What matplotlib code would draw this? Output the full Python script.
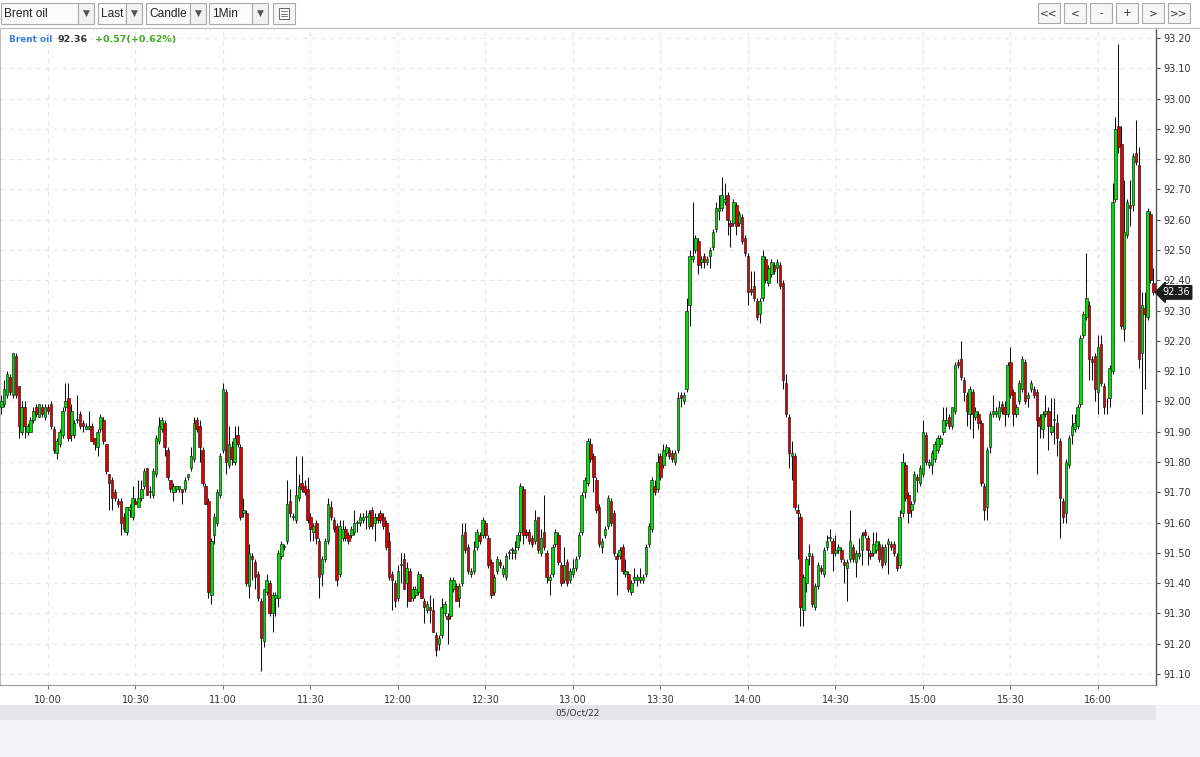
import matplotlib
matplotlib.use("Agg")
import matplotlib.pyplot as plt
from matplotlib.patches import Rectangle
from matplotlib.lines import Line2D
import numpy as np

# ---------------- data (1-minute candles, Brent oil, 05/Oct/22) ----------------
start_minute = 9 * 60 + 44          # first candle 09:44

opens = [
    91.98, 91.99, 92.02, 92.08, 92.02, 92.15, 92.05, 91.90, 91.98, 91.90,
    91.90, 91.94, 91.98, 91.95, 91.98, 91.95, 91.98, 91.99, 91.91, 91.83,
    91.86, 91.89, 91.98, 92.01, 91.89, 91.89, 91.94, 91.96, 91.93, 91.91,
    91.91, 91.92, 91.88, 91.85, 91.91, 91.94, 91.86, 91.76, 91.74, 91.70,
    91.67, 91.67, 91.62, 91.57, 91.64, 91.62, 91.67, 91.65, 91.68, 91.72,
    91.78, 91.70, 91.69, 91.76, 91.87, 91.91, 91.93, 91.84, 91.74, 91.70,
    91.71, 91.71, 91.71, 91.71, 91.75, 91.78, 91.81, 91.94, 91.92, 91.84,
    91.72, 91.67, 91.36, 91.56, 91.60, 91.69, 91.84, 92.03, 91.79, 91.85,
    91.80, 91.89, 91.85, 91.63, 91.63, 91.39, 91.49, 91.47, 91.43, 91.34,
    91.21, 91.37, 91.40, 91.30, 91.35, 91.35, 91.49, 91.52, 91.54, 91.67,
    91.62, 91.61, 91.68, 91.73, 91.72, 91.71, 91.62, 91.57, 91.60, 91.54,
    91.43, 91.48, 91.54, 91.65, 91.61, 91.59, 91.43, 91.55, 91.58, 91.56,
    91.56, 91.57, 91.60, 91.60, 91.61, 91.62, 91.59, 91.64, 91.60, 91.62,
    91.63, 91.62, 91.60, 91.54, 91.43, 91.40, 91.35, 91.46, 91.48, 91.40,
    91.44, 91.35, 91.36, 91.37, 91.42, 91.34, 91.31, 91.32, 91.31, 91.23,
    91.20, 91.23, 91.30, 91.29, 91.29, 91.38, 91.39, 91.35, 91.40, 91.57,
    91.52, 91.43, 91.44, 91.52, 91.56, 91.56, 91.60, 91.55, 91.47, 91.37,
    91.44, 91.47, 91.43, 91.42, 91.50, 91.51, 91.50, 91.52, 91.57, 91.71,
    91.57, 91.57, 91.55, 91.54, 91.62, 91.50, 91.57, 91.50, 91.41, 91.43,
    91.53, 91.56, 91.46, 91.41, 91.47, 91.41, 91.43, 91.45, 91.49, 91.57,
    91.70, 91.73, 91.86, 91.82, 91.74, 91.65, 91.52, 91.56, 91.59, 91.67,
    91.63, 91.49, 91.49, 91.52, 91.43, 91.43, 91.37, 91.41, 91.41, 91.41,
    91.41, 91.43, 91.53, 91.58, 91.72, 91.71, 91.82, 91.79, 91.83, 91.84,
    91.83, 91.80, 91.84, 92.02, 92.00, 92.04, 92.32, 92.47, 92.50, 92.53,
    92.46, 92.48, 92.46, 92.48, 92.51, 92.57, 92.63, 92.64, 92.66, 92.68,
    92.59, 92.59, 92.65, 92.59, 92.61, 92.54, 92.48, 92.37, 92.38, 92.33,
    92.29, 92.34, 92.47, 92.39, 92.42, 92.45, 92.44, 92.45, 92.39, 92.06,
    91.95, 91.82, 91.82, 91.64, 91.62, 91.31, 91.40, 91.49, 91.49, 91.32,
    91.39, 91.45, 91.43, 91.52, 91.55, 91.54, 91.50, 91.51, 91.51, 91.47,
    91.45, 91.48, 91.52, 91.47, 91.49, 91.51, 91.57, 91.55, 91.50, 91.50,
    91.51, 91.53, 91.52, 91.47, 91.53, 91.53, 91.53, 91.49, 91.46, 91.63,
    91.79, 91.69, 91.64, 91.67, 91.75, 91.73, 91.76, 91.89, 91.79, 91.79,
    91.81, 91.84, 91.86, 91.90, 91.93, 91.95, 91.92, 91.97, 92.13, 92.14,
    92.07, 92.02, 91.96, 92.03, 91.95, 91.96, 91.93, 91.72, 91.65, 91.85,
    91.96, 91.96, 91.95, 91.99, 91.98, 91.96, 92.13, 92.03, 91.96, 92.00,
    92.04, 92.13, 92.01, 92.04, 92.04, 92.03, 91.95, 91.91, 91.96, 91.97,
    91.90, 91.94, 91.93, 91.87, 91.67, 91.63, 91.79, 91.89, 91.91, 91.92,
    91.99, 92.22, 92.28, 92.32, 92.14, 92.15, 92.03, 92.19, 92.05, 92.00,
    92.01, 92.10, 92.67, 92.91, 92.85, 92.24, 92.55, 92.65, 92.65, 92.82,
    92.78, 92.16, 92.31, 92.28, 92.62, 92.39,
]

highs = [
    92.02, 92.07, 92.10, 92.09, 92.16, 92.16, 92.05, 92.00, 92.00, 91.93,
    91.95, 91.98, 91.99, 91.99, 91.99, 91.99, 91.99, 92.00, 91.92, 91.88,
    91.91, 91.98, 92.06, 92.06, 91.99, 91.94, 92.02, 91.97, 91.94, 91.93,
    91.97, 91.93, 91.88, 91.91, 91.96, 91.95, 91.86, 91.76, 91.75, 91.71,
    91.68, 91.68, 91.63, 91.65, 91.66, 91.72, 91.68, 91.74, 91.74, 91.78,
    91.78, 91.72, 91.78, 91.89, 91.95, 91.95, 91.94, 91.85, 91.74, 91.73,
    91.72, 91.72, 91.71, 91.75, 91.76, 91.85, 91.95, 91.95, 91.94, 91.85,
    91.73, 91.68, 91.55, 91.63, 91.71, 91.83, 92.06, 92.04, 91.92, 91.87,
    91.92, 91.92, 91.86, 91.68, 91.64, 91.53, 91.50, 91.48, 91.44, 91.35,
    91.38, 91.43, 91.41, 91.37, 91.37, 91.51, 91.54, 91.53, 91.74, 91.71,
    91.63, 91.82, 91.76, 91.82, 91.74, 91.75, 91.63, 91.60, 91.61, 91.55,
    91.49, 91.55, 91.68, 91.67, 91.62, 91.60, 91.61, 91.61, 91.59, 91.57,
    91.59, 91.64, 91.61, 91.63, 91.63, 91.64, 91.64, 91.65, 91.63, 91.63,
    91.64, 91.63, 91.61, 91.57, 91.44, 91.41, 91.46, 91.50, 91.50, 91.47,
    91.45, 91.39, 91.39, 91.44, 91.43, 91.35, 91.34, 91.36, 91.35, 91.24,
    91.23, 91.35, 91.34, 91.30, 91.42, 91.42, 91.40, 91.40, 91.60, 91.60,
    91.53, 91.45, 91.54, 91.58, 91.57, 91.62, 91.61, 91.56, 91.48, 91.43,
    91.49, 91.48, 91.46, 91.50, 91.51, 91.52, 91.54, 91.57, 91.73, 91.72,
    91.58, 91.58, 91.56, 91.64, 91.62, 91.58, 91.69, 91.51, 91.43, 91.53,
    91.58, 91.57, 91.47, 91.52, 91.48, 91.45, 91.48, 91.49, 91.57, 91.70,
    91.75, 91.88, 91.88, 91.83, 91.75, 91.66, 91.55, 91.59, 91.69, 91.68,
    91.64, 91.50, 91.52, 91.53, 91.48, 91.44, 91.41, 91.45, 91.43, 91.45,
    91.43, 91.53, 91.60, 91.75, 91.74, 91.83, 91.83, 91.86, 91.86, 91.85,
    91.84, 91.84, 92.03, 92.03, 92.03, 92.34, 92.50, 92.66, 92.55, 92.54,
    92.48, 92.49, 92.48, 92.51, 92.57, 92.66, 92.68, 92.74, 92.72, 92.69,
    92.60, 92.67, 92.66, 92.63, 92.62, 92.55, 92.49, 92.43, 92.43, 92.34,
    92.34, 92.50, 92.48, 92.45, 92.47, 92.46, 92.47, 92.46, 92.40, 92.09,
    91.96, 91.87, 91.83, 91.66, 91.63, 91.43, 91.49, 91.53, 91.50, 91.40,
    91.47, 91.46, 91.52, 91.56, 91.58, 91.55, 91.56, 91.53, 91.52, 91.48,
    91.48, 91.64, 91.53, 91.51, 91.55, 91.57, 91.58, 91.56, 91.51, 91.57,
    91.57, 91.54, 91.53, 91.53, 91.55, 91.54, 91.54, 91.50, 91.64, 91.83,
    91.80, 91.70, 91.67, 91.77, 91.76, 91.79, 91.94, 91.90, 91.81, 91.84,
    91.87, 91.89, 91.89, 91.98, 91.98, 91.96, 91.98, 92.13, 92.14, 92.20,
    92.08, 92.03, 92.05, 92.04, 91.98, 91.97, 91.94, 91.73, 91.85, 91.97,
    92.02, 91.98, 92.00, 92.00, 92.00, 92.13, 92.18, 92.04, 91.99, 92.07,
    92.15, 92.14, 92.03, 92.07, 92.05, 92.04, 91.96, 91.97, 92.02, 91.98,
    92.01, 92.01, 91.96, 91.88, 91.68, 91.81, 91.89, 91.96, 91.96, 91.99,
    92.22, 92.30, 92.49, 92.33, 92.15, 92.16, 92.22, 92.22, 92.06, 92.01,
    92.12, 92.72, 92.94, 93.18, 92.91, 92.73, 92.67, 92.73, 92.82, 92.93,
    92.84, 92.36, 92.36, 92.64, 92.63, 92.44,
]

lows = [
    91.96, 91.98, 92.01, 92.02, 92.01, 92.01, 91.88, 91.89, 91.88, 91.89,
    91.90, 91.93, 91.95, 91.95, 91.95, 91.94, 91.96, 91.91, 91.83, 91.81,
    91.85, 91.88, 91.97, 91.87, 91.87, 91.88, 91.93, 91.91, 91.90, 91.91,
    91.91, 91.87, 91.84, 91.82, 91.90, 91.86, 91.76, 91.64, 91.64, 91.67,
    91.65, 91.56, 91.57, 91.56, 91.62, 91.61, 91.66, 91.65, 91.67, 91.71,
    91.69, 91.68, 91.68, 91.75, 91.86, 91.90, 91.82, 91.74, 91.70, 91.67,
    91.70, 91.70, 91.66, 91.70, 91.74, 91.77, 91.80, 91.90, 91.80, 91.72,
    91.66, 91.35, 91.33, 91.53, 91.59, 91.68, 91.83, 91.76, 91.78, 91.79,
    91.79, 91.85, 91.61, 91.62, 91.39, 91.35, 91.41, 91.38, 91.34, 91.11,
    91.19, 91.36, 91.29, 91.24, 91.29, 91.32, 91.48, 91.51, 91.53, 91.62,
    91.61, 91.60, 91.67, 91.70, 91.69, 91.60, 91.54, 91.54, 91.53, 91.35,
    91.39, 91.47, 91.53, 91.61, 91.57, 91.39, 91.42, 91.54, 91.54, 91.53,
    91.55, 91.56, 91.57, 91.59, 91.60, 91.58, 91.58, 91.58, 91.54, 91.60,
    91.60, 91.58, 91.51, 91.41, 91.31, 91.32, 91.34, 91.40, 91.38, 91.32,
    91.34, 91.34, 91.35, 91.36, 91.35, 91.27, 91.30, 91.27, 91.24, 91.16,
    91.18, 91.22, 91.29, 91.20, 91.28, 91.37, 91.34, 91.32, 91.39, 91.50,
    91.43, 91.42, 91.43, 91.51, 91.53, 91.55, 91.55, 91.45, 91.35, 91.36,
    91.43, 91.45, 91.42, 91.41, 91.48, 91.48, 91.48, 91.51, 91.54, 91.53,
    91.55, 91.53, 91.52, 91.53, 91.50, 91.49, 91.51, 91.40, 91.36, 91.42,
    91.52, 91.46, 91.39, 91.40, 91.39, 91.40, 91.42, 91.44, 91.48, 91.56,
    91.68, 91.72, 91.80, 91.70, 91.63, 91.52, 91.50, 91.55, 91.58, 91.59,
    91.49, 91.36, 91.48, 91.43, 91.42, 91.37, 91.36, 91.40, 91.39, 91.40,
    91.40, 91.42, 91.52, 91.57, 91.69, 91.70, 91.74, 91.78, 91.82, 91.81,
    91.80, 91.79, 91.83, 91.98, 91.99, 92.03, 92.25, 92.46, 92.49, 92.42,
    92.44, 92.44, 92.45, 92.44, 92.50, 92.56, 92.60, 92.63, 92.65, 92.55,
    92.51, 92.58, 92.55, 92.58, 92.52, 92.48, 92.32, 92.35, 92.33, 92.27,
    92.26, 92.33, 92.39, 92.38, 92.41, 92.42, 92.39, 92.37, 92.04, 91.95,
    91.78, 91.74, 91.64, 91.48, 91.26, 91.26, 91.37, 91.46, 91.32, 91.31,
    91.38, 91.43, 91.42, 91.51, 91.54, 91.44, 91.49, 91.50, 91.47, 91.40,
    91.34, 91.47, 91.47, 91.42, 91.48, 91.46, 91.55, 91.46, 91.48, 91.49,
    91.50, 91.47, 91.45, 91.46, 91.43, 91.51, 91.49, 91.44, 91.45, 91.62,
    91.67, 91.60, 91.62, 91.66, 91.70, 91.72, 91.75, 91.79, 91.78, 91.76,
    91.80, 91.83, 91.85, 91.89, 91.92, 91.91, 91.91, 91.96, 92.11, 92.07,
    92.00, 91.92, 91.91, 91.88, 91.94, 91.91, 91.72, 91.61, 91.61, 91.83,
    91.95, 91.95, 91.94, 91.96, 91.92, 91.95, 92.01, 91.92, 91.95, 91.99,
    92.03, 91.99, 91.98, 92.03, 92.01, 91.76, 91.88, 91.88, 91.95, 91.84,
    91.89, 91.86, 91.82, 91.55, 91.60, 91.60, 91.78, 91.86, 91.90, 91.91,
    91.98, 92.21, 92.27, 92.07, 92.07, 92.00, 91.96, 92.05, 91.96, 91.96,
    91.98, 92.09, 92.66, 92.82, 92.24, 92.20, 92.54, 92.58, 92.63, 92.78,
    92.11, 91.96, 92.04, 92.27, 92.39, 92.35,
]

closes = [
    92.00, 92.04, 92.09, 92.03, 92.16, 92.02, 91.92, 91.98, 91.92, 91.92,
    91.94, 91.97, 91.96, 91.99, 91.96, 91.98, 91.97, 91.92, 91.84, 91.87,
    91.90, 91.97, 92.00, 91.88, 91.97, 91.93, 91.94, 91.92, 91.92, 91.92,
    91.92, 91.87, 91.86, 91.90, 91.95, 91.87, 91.77, 91.73, 91.68, 91.68,
    91.66, 91.60, 91.58, 91.65, 91.65, 91.68, 91.66, 91.68, 91.71, 91.77,
    91.69, 91.70, 91.77, 91.88, 91.92, 91.94, 91.85, 91.75, 91.71, 91.72,
    91.72, 91.72, 91.70, 91.74, 91.76, 91.82, 91.93, 91.91, 91.85, 91.73,
    91.66, 91.37, 91.54, 91.62, 91.70, 91.82, 92.04, 91.80, 91.86, 91.81,
    91.88, 91.86, 91.62, 91.64, 91.40, 91.50, 91.48, 91.42, 91.35, 91.22,
    91.38, 91.41, 91.30, 91.36, 91.36, 91.50, 91.53, 91.52, 91.66, 91.63,
    91.62, 91.69, 91.72, 91.71, 91.70, 91.61, 91.58, 91.59, 91.55, 91.42,
    91.48, 91.54, 91.66, 91.62, 91.58, 91.41, 91.59, 91.58, 91.55, 91.54,
    91.58, 91.60, 91.60, 91.62, 91.62, 91.62, 91.63, 91.59, 91.62, 91.61,
    91.61, 91.59, 91.52, 91.42, 91.41, 91.34, 91.44, 91.46, 91.38, 91.45,
    91.34, 91.38, 91.38, 91.43, 91.35, 91.32, 91.33, 91.31, 91.24, 91.18,
    91.22, 91.32, 91.33, 91.28, 91.41, 91.41, 91.34, 91.39, 91.56, 91.51,
    91.44, 91.44, 91.51, 91.57, 91.54, 91.61, 91.56, 91.46, 91.36, 91.42,
    91.48, 91.46, 91.45, 91.49, 91.50, 91.51, 91.51, 91.56, 91.72, 91.56,
    91.56, 91.54, 91.53, 91.61, 91.51, 91.55, 91.52, 91.42, 91.42, 91.52,
    91.57, 91.47, 91.40, 91.46, 91.40, 91.44, 91.45, 91.48, 91.56, 91.69,
    91.74, 91.87, 91.81, 91.75, 91.64, 91.53, 91.54, 91.58, 91.68, 91.60,
    91.50, 91.48, 91.51, 91.44, 91.44, 91.38, 91.40, 91.42, 91.42, 91.42,
    91.42, 91.52, 91.59, 91.74, 91.70, 91.80, 91.75, 91.84, 91.85, 91.82,
    91.81, 91.83, 92.01, 92.01, 92.02, 92.30, 92.48, 92.48, 92.54, 92.45,
    92.47, 92.46, 92.47, 92.50, 92.56, 92.64, 92.64, 92.68, 92.67, 92.60,
    92.58, 92.66, 92.58, 92.62, 92.53, 92.49, 92.36, 92.36, 92.34, 92.28,
    92.33, 92.48, 92.40, 92.44, 92.46, 92.43, 92.46, 92.38, 92.07, 91.96,
    91.83, 91.83, 91.65, 91.63, 91.32, 91.42, 91.48, 91.50, 91.33, 91.39,
    91.46, 91.44, 91.51, 91.54, 91.55, 91.50, 91.51, 91.52, 91.48, 91.46,
    91.47, 91.54, 91.48, 91.50, 91.50, 91.56, 91.56, 91.51, 91.49, 91.53,
    91.54, 91.48, 91.46, 91.52, 91.54, 91.52, 91.50, 91.45, 91.62, 91.80,
    91.68, 91.63, 91.66, 91.76, 91.74, 91.78, 91.90, 91.80, 91.80, 91.83,
    91.86, 91.88, 91.88, 91.94, 91.94, 91.92, 91.98, 92.12, 92.12, 92.08,
    92.03, 91.97, 92.04, 91.96, 91.97, 91.93, 91.73, 91.64, 91.84, 91.96,
    91.97, 91.97, 91.98, 91.97, 91.96, 92.12, 92.02, 91.96, 91.98, 92.06,
    92.14, 92.00, 92.02, 92.06, 92.02, 91.94, 91.92, 91.96, 91.97, 91.92,
    91.92, 91.94, 91.88, 91.68, 91.62, 91.80, 91.88, 91.92, 91.93, 91.98,
    92.21, 92.29, 92.34, 92.14, 92.13, 92.04, 92.18, 92.06, 91.98, 92.00,
    92.11, 92.66, 92.90, 92.84, 92.25, 92.56, 92.66, 92.64, 92.81, 92.79,
    92.14, 92.32, 92.29, 92.63, 92.40, 92.36,
]

prev_close = 91.79
tick_times = ["10:00", "10:30", "11:00", "11:30", "12:00", "12:30", "13:00",
              "13:30", "14:00", "14:30", "15:00", "15:30", "16:00"]
price_ticks = [91.10, 91.20, 91.30, 91.40, 91.50, 91.60, 91.70, 91.80, 91.90, 92.00,
               92.10, 92.20, 92.30, 92.40, 92.50, 92.60, 92.70, 92.80, 92.90, 93.00,
               93.10, 93.20]
date_label = "05/Oct/22"
instrument = "Brent oil"

# ---------------- figure ----------------
W, H = 1200, 757
fig = plt.figure(figsize=(W / 100, H / 100), dpi=100, facecolor="white")

def fx(x):
    return x / W

def fy(y):
    return 1 - y / H

def frect(x0, y0, x1, y1, fc, ec="none", lw=0.8, z=0):
    r = Rectangle((fx(x0), fy(y1)), fx(x1) - fx(x0), fy(y0) - fy(y1),
                  transform=fig.transFigure, facecolor=fc, edgecolor=ec, lw=lw, zorder=z)
    fig.add_artist(r)
    return r

# chart axes: x 0..1156 px, y 28..685 px
ax = fig.add_axes([0, fy(685), fx(1156), fy(28) - fy(685)])
ax.set_facecolor("white")

o = np.array(opens)
h = np.array(highs)
l = np.array(lows)
c = np.array(closes)
h = np.maximum(h, np.maximum(o, c))
l = np.minimum(l, np.minimum(o, c))
n = len(c)
x = np.arange(n)

up = c >= o
colors = np.where(up, "#00e000", "#e00000")
bottoms = np.minimum(o, c)
heights = np.maximum(np.abs(c - o), 0.003)

ax.vlines(x, l, h, color="#111111", lw=0.75, zorder=2)
ax.bar(x, heights, bottom=bottoms, width=0.84, color=colors,
       edgecolor="#151515", linewidth=0.45, zorder=3)

# axis ranges (pixel calibrated)
px_per_min = 2.9167
ax.set_xlim((0 - 1.3) / px_per_min, (1156 - 1.3) / px_per_min)
ax.set_ylim(93.20 - (685 - 38) / 302.86, 93.20 + 10 / 302.86)

tick_idx = [int(t[:2]) * 60 + int(t[3:]) - start_minute for t in tick_times]
ax.set_xticks(tick_idx)
ax.set_xticklabels(tick_times)
ax.set_yticks(price_ticks)
ax.set_yticklabels([f"{p:.2f}" for p in price_ticks])
ax.yaxis.tick_right()
ax.tick_params(axis="y", length=3, width=0.8, color="#555555", pad=2,
               labelsize=7, labelcolor="#333333")
ax.tick_params(axis="x", length=3, width=0.8, color="#777777", pad=4,
               labelsize=7, labelcolor="#333333")

ax.grid(True, color="#e6e6e6", lw=0.8, linestyle=(0, (4, 4)), zorder=0)
ax.set_axisbelow(True)

for side in ["top", "left"]:
    ax.spines[side].set_color("#bdbdbd")
    ax.spines[side].set_linewidth(0.8)
ax.spines["right"].set_color("#555555")
ax.spines["right"].set_linewidth(1.0)
ax.spines["bottom"].set_color("#999999")
ax.spines["bottom"].set_linewidth(0.8)

# header line inside the chart
last = c[-1]
chg = last - prev_close
pct = chg / prev_close * 100
fig.text(fx(9), fy(39.5), instrument, fontsize=6.4, fontweight="bold",
         color="#3a7fe0", va="center", ha="left")
fig.text(fx(58), fy(39.5), f"{last:.2f}", fontsize=6.8, fontweight="bold",
         color="#333333", va="center", ha="left")
fig.text(fx(95), fy(39.5), f"+{chg:.2f}(+{pct:.2f}%)", fontsize=6.8,
         fontweight="bold", color="#3cab1e", va="center", ha="left")

# last price marker on the axis
ax.annotate(f"{last:.2f}", xy=(1.0, last), xycoords=ax.get_yaxis_transform(),
            xytext=(4.6, 0), textcoords="offset points", ha="left", va="center",
            fontsize=7, color="white", annotation_clip=False,
            bbox=dict(boxstyle="larrow,pad=0.18", fc="#1c1c1c", ec="#1c1c1c"))

# bottom bands
frect(0, 705, 1156, 720, "#e6e6ea", z=-1)
frect(0, 720, 1200, 757, "#f3f3f5", z=-1)
frect(1156, 705, 1200, 720, "#f3f3f5", z=-1)
fig.text(fx(578), fy(712.5), date_label, fontsize=6.5, color="#333333",
         ha="center", va="center")

# top border line across the whole width
fig.add_artist(Line2D([0, 1], [fy(28), fy(28)], transform=fig.transFigure,
                      color="#bdbdbd", lw=0.8))

# toolbar
tb_font = ["Liberation Sans", "DejaVu Sans"]
def dropdown(x0, x1, x2, label):
    frect(x0, 3, x1, 24, "#fbfbfb", ec="#a9a9a9", lw=0.8, z=2)
    frect(x1, 3, x2, 24, "#f2f2f2", ec="#a9a9a9", lw=0.8, z=2)
    fig.text(fx(x0 + 3), fy(13.8), label, fontsize=8.6, family=tb_font,
             color="#222222", ha="left", va="center", zorder=3)
    fig.text(fx((x1 + x2) / 2), fy(13.8), "\u25bc", fontsize=6.5,
             color="#555555", ha="center", va="center", zorder=3)

dropdown(1, 78, 94, instrument)
dropdown(98, 126, 142, "Last")
dropdown(146, 190, 206, "Candle")
dropdown(209, 252, 268, "1Min")

frect(273, 3, 295, 24, "#f6f6f6", ec="#a9a9a9", lw=0.8, z=2)
frect(279, 8, 289, 19, "white", ec="#666666", lw=0.7, z=3)
for yy in (11, 13.5, 16):
    fig.add_artist(Line2D([fx(281), fx(287)], [fy(yy), fy(yy)],
                          transform=fig.transFigure, color="#666666", lw=0.6, zorder=4))

for xb, lab in zip([1038, 1064, 1090, 1116, 1142, 1168],
                   ["<<", "<", "-", "+", ">", ">>"]):
    frect(xb, 3, xb + 22, 23, "#f6f6f6", ec="#a9a9a9", lw=0.8, z=2)
    fig.text(fx(xb + 11), fy(13), lab, fontsize=7.5, color="#333333",
             ha="center", va="center", zorder=3)

fig.savefig("out.png", dpi=100, facecolor=fig.get_facecolor())
